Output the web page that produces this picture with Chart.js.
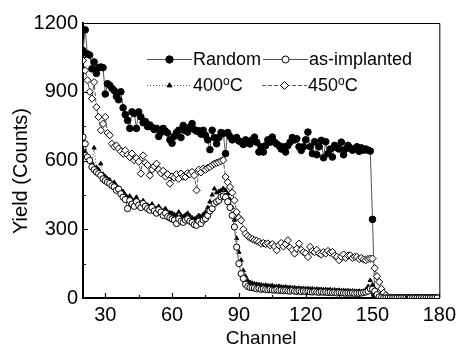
<!DOCTYPE html>
<html>
<head>
<meta charset="utf-8">
<script src="https://cdn.jsdelivr.net/npm/chart.js@4.4.0/dist/chart.umd.min.js"></script>
<style>
  html, body { margin: 0; padding: 0; background: #fff; }
  #wrap { width: 461px; height: 352px; }
</style>
</head>
<body>
<div id="wrap"><canvas id="rbsChart" width="461" height="352"></canvas></div>
<script>
// channels 20..179
const channels = [
  20, 21, 22, 23, 24, 25, 26, 27, 28, 29, 30, 31, 32, 33, 34, 35, 36, 37, 38, 39,
  40, 41, 42, 43, 44, 45, 46, 47, 48, 49, 50, 51, 52, 53, 54, 55, 56, 57, 58, 59,
  60, 61, 62, 63, 64, 65, 66, 67, 68, 69, 70, 71, 72, 73, 74, 75, 76, 77, 78, 79,
  80, 81, 82, 83, 84, 85, 86, 87, 88, 89, 90, 91, 92, 93, 94, 95, 96, 97, 98, 99,
  100, 101, 102, 103, 104, 105, 106, 107, 108, 109, 110, 111, 112, 113, 114, 115, 116, 117, 118, 119,
  120, 121, 122, 123, 124, 125, 126, 127, 128, 129, 130, 131, 132, 133, 134, 135, 136, 137, 138, 139,
  140, 141, 142, 143, 144, 145, 146, 147, 148, 149, 150, 151, 152, 153, 154, 155, 156, 157, 158, 159,
  160, 161, 162, 163, 164, 165, 166, 167, 168, 169, 170, 171, 172, 173, 174, 175, 176, 177, 178, 179
];

const randomYield = [
  1080, 1170, 1065, 1060, 1000, 1030, 980, 1005, 1008, 1005,
  890, 935, 928, 915, 905, 880, 865, 900, 830, 800,
  775, 740, 812, 805, 740, 812, 790, 765, 770, 748,
  755, 745, 735, 740, 705, 722, 740, 728, 720, 690,
  675, 705, 722, 732, 700, 753, 730, 724, 745, 761,
  735, 728, 730, 715, 732, 710, 690, 647, 732, 700,
  673, 700, 722, 718, 630, 722, 705, 690, 695, 700,
  685, 680, 670, 690, 680, 672, 690, 702, 680, 637,
  660, 637, 665, 690, 680, 702, 680, 672, 665, 650,
  660, 637, 665, 680, 700, 690, 695, 660, 644, 660,
  690, 724, 660, 630, 682, 625, 660, 688, 612, 682,
  630, 650, 615, 666, 655, 650, 680, 625, 650, 666,
  655, 645, 650, 660, 640, 655, 645, 650, 645, 641,
  343, 15, 5, 3, 2, 1, 0, 0, 0, 0,
  0, 0, 0, 0, 0, 0, 0, 0, 0, 0,
  0, 0, 0, 0, 0, 0, 0, 0, 0, 0
];

const asImplanted = [
  702, 673, 615, 600, 572, 560, 550, 543, 535, 520,
  512, 505, 500, 490, 485, 470, 475, 455, 440, 430,
  390, 425, 410, 400, 420, 405, 395, 412, 400, 390,
  383, 395, 380, 370, 385, 375, 360, 370, 355, 350,
  345, 340, 325, 345, 335, 330, 340, 345, 335, 330,
  320, 317, 335, 325, 340, 346, 360, 380, 390, 412,
  420, 426, 441, 445, 440, 420, 395, 360, 310, 222,
  150, 106, 85, 60, 50, 46, 45, 44, 40, 42,
  38, 40, 37, 36, 38, 35, 34, 36, 33, 34,
  32, 33, 31, 30, 33, 30, 29, 31, 28, 30,
  28, 29, 27, 26, 28, 26, 25, 27, 25, 26,
  24, 25, 23, 24, 22, 24, 23, 22, 21, 22,
  21, 22, 20, 21, 20, 22, 24, 26, 30, 40,
  38, 30, 15, 5, 2, 0, 0, 0, 0, 0,
  0, 0, 0, 0, 0, 0, 0, 0, 0, 0,
  0, 0, 0, 0, 0, 0, 0, 0, 0, 0
];

const anneal400 = [
  690, 640, 620, 600, 590, 655, 570, 560, 586, 540,
  530, 520, 515, 500, 505, 490, 480, 470, 465, 450,
  440, 445, 430, 425, 440, 420, 415, 425, 410, 405,
  400, 410, 395, 390, 400, 385, 380, 390, 375, 372,
  370, 365, 360, 375, 360, 355, 362, 370, 358, 350,
  345, 350, 360, 355, 365, 375, 395, 420, 450, 477,
  460, 465, 470, 478, 470, 455, 430, 395, 340, 260,
  200, 165, 120, 95, 75, 68, 65, 62, 60, 58,
  57, 55, 56, 53, 52, 54, 50, 49, 51, 48,
  47, 48, 45, 46, 44, 45, 42, 43, 41, 42,
  40, 41, 39, 40, 38, 39, 37, 38, 36, 37,
  35, 36, 34, 35, 33, 34, 32, 33, 31, 32,
  30, 31, 30, 29, 30, 28, 30, 35, 50, 77,
  58, 40, 20, 8, 2, 0, 0, 0, 0, 0,
  0, 0, 0, 0, 0, 0, 0, 0, 0, 0,
  0, 0, 0, 0, 0, 0, 0, 0, 0, 0
];

const anneal450 = [
  1037, 993, 950, 900, 870, 942, 833, 790, 732, 760,
  790, 720, 710, 673, 660, 665, 652, 640, 630, 644,
  625, 615, 630, 601, 610, 595, 543, 622, 590, 580,
  535, 560, 575, 586, 560, 545, 555, 530, 540, 499,
  530, 525, 540, 520, 543, 530, 528, 545, 540, 550,
  535, 470, 560, 548, 565, 560, 568, 572, 580, 586,
  590, 593, 598, 601, 528, 505, 484, 460, 426, 375,
  350, 339, 300, 281, 270, 262, 258, 252, 250, 245,
  237, 240, 235, 238, 230, 235, 225, 208, 230, 240,
  225, 235, 252, 220, 210, 194, 215, 237, 210, 200,
  195, 179, 223, 205, 200, 210, 195, 190, 200, 194,
  205, 198, 201, 185, 180, 165, 180, 190, 175, 185,
  186, 175, 180, 179, 170, 175, 168, 165, 170, 172,
  172, 130, 95, 70, 40, 22, 12, 5, 2, 0,
  0, 0, 0, 0, 0, 0, 0, 0, 0, 0,
  0, 0, 0, 0, 0, 0, 0, 0, 0, 0
];

const xTicks = [30, 60, 90, 120, 150, 180];
const xMinorTicks = [45, 75, 105, 135, 165];
const yTicks = [0, 300, 600, 900, 1200];
const yMinorTicks = [150, 450, 750, 1050];

const FONT = "'Liberation Sans', Arial, sans-serif";
const LINE = '#555';

function toPoints(vals) {
  return channels.map((c, i) => ({ x: c, y: vals[i] }));
}

// frame, inward ticks, y title and the in-plot legend
const framePlugin = {
  id: 'framePlugin',
  afterDraw(chart) {
    const { ctx, chartArea: a, scales: { x, y } } = chart;
    ctx.save();
    ctx.strokeStyle = '#000';
    ctx.lineWidth = 1;
    ctx.beginPath();
    ctx.moveTo(a.left, a.top + 0.5);
    ctx.lineTo(a.right + 0.5, a.top + 0.5);
    ctx.lineTo(a.right + 0.5, a.bottom);
    ctx.stroke();

    ctx.lineWidth = 1.2;
    ctx.beginPath();
    xTicks.forEach(v => { const p = Math.round(x.getPixelForValue(v)) + 0.5; ctx.moveTo(p, a.bottom); ctx.lineTo(p, a.bottom - 5); });
    xMinorTicks.forEach(v => { const p = Math.round(x.getPixelForValue(v)) + 0.5; ctx.moveTo(p, a.bottom); ctx.lineTo(p, a.bottom - 3); });
    yTicks.forEach(v => { const p = Math.round(y.getPixelForValue(v)) + 0.5; ctx.moveTo(a.left, p); ctx.lineTo(a.left + 5, p); });
    yMinorTicks.forEach(v => { const p = Math.round(y.getPixelForValue(v)) + 0.5; ctx.moveTo(a.left, p); ctx.lineTo(a.left + 3, p); });
    ctx.stroke();

    // y axis title
    ctx.save();
    ctx.translate(21, 171);
    ctx.rotate(-Math.PI / 2);
    ctx.fillStyle = '#000';
    ctx.font = '20px ' + FONT;
    ctx.textAlign = 'center';
    ctx.textBaseline = 'middle';
    ctx.fillText('Yield (Counts)', 0, 0);
    ctx.restore();

    // legend
    const items = [
      { ds: 0, x0: 147, x1: 192, y: 59, label: ['Random'] },
      { ds: 1, x0: 263, x1: 308, y: 59, label: ['as-implanted'] },
      { ds: 2, x0: 147, x1: 192, y: 85, label: ['400', 'o', 'C'] },
      { ds: 3, x0: 262, x1: 307, y: 85, label: ['450', 'o', 'C'] }
    ];
    items.forEach(it => {
      const d = chart.data.datasets[it.ds];
      ctx.save();
      ctx.strokeStyle = LINE;
      ctx.lineWidth = 1;
      ctx.setLineDash(d.borderDash || []);
      ctx.beginPath();
      ctx.moveTo(it.x0, it.y + 0.5);
      ctx.lineTo(it.x1, it.y + 0.5);
      ctx.stroke();
      ctx.setLineDash([]);
      ctx.fillStyle = d.pointBackgroundColor;
      ctx.strokeStyle = '#000';
      ctx.lineWidth = 1;
      Chart.helpers.drawPoint(ctx, {
        pointStyle: d.pointStyle, radius: d.pointRadius + 0.4, rotation: 0, borderWidth: 1
      }, (it.x0 + it.x1) / 2, it.y + 0.5);
      ctx.restore();

      ctx.fillStyle = '#000';
      ctx.textBaseline = 'middle';
      ctx.textAlign = 'left';
      let tx = it.x1 + 1;
      it.label.forEach((part, k) => {
        if (k === 1) {
          ctx.font = '12px ' + FONT;
          ctx.fillText(part, tx, it.y - 3);
        } else {
          ctx.font = '18px ' + FONT;
          ctx.fillText(part, tx, it.y + 1);
        }
        tx += ctx.measureText(part).width;
      });
    });
    ctx.restore();
  }
};

new Chart(document.getElementById('rbsChart'), {
  type: 'line',
  data: {
    datasets: [
      {
        label: 'Random', data: toPoints(randomYield), order: 4,
        borderColor: LINE, borderWidth: 1,
        pointStyle: 'circle', pointRadius: 3.3,
        pointBackgroundColor: '#000', pointBorderColor: '#000', pointBorderWidth: 1
      },
      {
        label: 'as-implanted', data: toPoints(asImplanted), order: 1,
        borderColor: LINE, borderWidth: 1,
        pointStyle: 'circle', pointRadius: 3.1,
        pointBackgroundColor: '#fff', pointBorderColor: '#000', pointBorderWidth: 1
      },
      {
        label: '400oC', data: toPoints(anneal400), order: 3,
        borderColor: LINE, borderWidth: 1, borderDash: [1, 2],
        pointStyle: 'triangle', pointRadius: 2.4,
        pointBackgroundColor: '#000', pointBorderColor: '#000', pointBorderWidth: 1
      },
      {
        label: '450oC', data: toPoints(anneal450), order: 2,
        borderColor: LINE, borderWidth: 1, borderDash: [4, 2],
        pointStyle: 'rectRot', pointRadius: 3.6,
        pointBackgroundColor: '#fff', pointBorderColor: '#000', pointBorderWidth: 1
      }
    ]
  },
  options: {
    responsive: false,
    animation: false,
    devicePixelRatio: 1,
    layout: { padding: { top: 23, right: 18, left: 0, bottom: 0 } },
    elements: { line: { tension: 0 } },
    plugins: { legend: { display: false }, tooltip: { enabled: false } },
    scales: {
      x: {
        type: 'linear', min: 20, max: 180,
        afterBuildTicks: s => { s.ticks = xTicks.map(v => ({ value: v })); },
        afterFit: s => { s.height = 54; },
        grid: { display: false, drawTicks: false },
        border: { display: true, color: '#000', width: 2 },
        ticks: { color: '#000', padding: 5, maxRotation: 0, autoSkip: false, font: { family: FONT, size: 20 }, callback: v => String(v) },
        title: { display: true, text: 'Channel', color: '#000', font: { family: FONT, size: 19 }, padding: { top: 0, bottom: 2 } }
      },
      y: {
        min: 0, max: 1200,
        afterBuildTicks: s => { s.ticks = yTicks.map(v => ({ value: v })); },
        afterFit: s => { s.width = 83; },
        grid: { display: false, drawTicks: false },
        border: { display: true, color: '#000', width: 2 },
        ticks: { color: '#000', padding: 5, font: { family: FONT, size: 20 }, callback: v => String(v) }
      }
    }
  },
  plugins: [framePlugin]
});
</script>
</body>
</html>
